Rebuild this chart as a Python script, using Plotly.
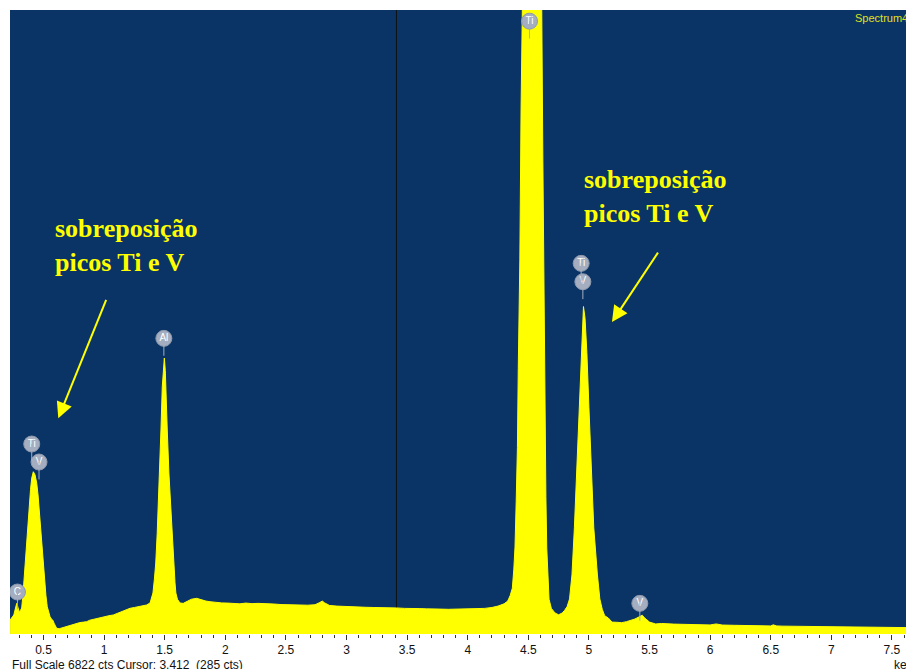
import plotly.graph_objects as go

# ---------------- data ----------------
energy_kev = [
    0.224, 0.245, 0.255, 0.265, 0.279, 0.290, 0.298, 0.310, 0.320, 0.330,
    0.339, 0.350, 0.361, 0.372, 0.383, 0.393, 0.403, 0.416, 0.430, 0.444,
    0.455, 0.465, 0.475, 0.485, 0.496, 0.507, 0.520, 0.531, 0.543, 0.554,
    0.565, 0.576, 0.590, 0.609, 0.630, 0.650, 0.670, 0.690, 0.720, 0.750,
    0.774, 0.800, 0.830, 0.857, 0.880, 0.910, 0.940, 0.970, 1.000, 1.040,
    1.076, 1.110, 1.150, 1.190, 1.214, 1.250, 1.290, 1.320, 1.350, 1.379,
    1.392, 1.403, 1.415, 1.426, 1.438, 1.450, 1.460, 1.469, 1.480, 1.490,
    1.497, 1.505, 1.511, 1.521, 1.535, 1.552, 1.563, 1.574, 1.585, 1.592,
    1.605, 1.626, 1.653, 1.690, 1.720, 1.764, 1.800, 1.840, 1.874, 1.920,
    1.970, 2.020, 2.070, 2.120, 2.170, 2.220, 2.270, 2.340, 2.400, 2.460,
    2.520, 2.580, 2.616, 2.680, 2.740, 2.780, 2.800, 2.820, 2.860, 2.920,
    2.980, 3.040, 3.100, 3.160, 3.220, 3.280, 3.340, 3.412, 3.480, 3.540,
    3.600, 3.660, 3.720, 3.780, 3.840, 3.900, 3.960, 4.020, 4.080, 4.140,
    4.200, 4.250, 4.300, 4.330, 4.350, 4.368, 4.380, 4.390, 4.400, 4.410,
    4.417, 4.430, 4.440, 4.450, 4.470, 4.500, 4.530, 4.560, 4.590, 4.611,
    4.620, 4.633, 4.638, 4.645, 4.652, 4.660, 4.671, 4.690, 4.720, 4.750,
    4.780, 4.800, 4.820, 4.840, 4.860, 4.880, 4.900, 4.920, 4.936, 4.955,
    4.968, 4.983, 5.000, 5.020, 5.040, 5.070, 5.090, 5.110, 5.130, 5.160,
    5.190, 5.230, 5.270, 5.310, 5.350, 5.380, 5.410, 5.440, 5.460, 5.500,
    5.550, 5.600, 5.700, 5.800, 5.900, 6.000, 6.050, 6.100, 6.200, 6.300,
    6.400, 6.500, 6.520, 6.550, 6.600, 6.700, 6.800, 6.900, 7.000, 7.100,
    7.200, 7.300, 7.400, 7.500, 7.620,
]
counts = [
    153, 190, 208, 262, 335, 290, 244, 260, 284, 420,
    590, 820, 1063, 1250, 1430, 1580, 1705, 1774, 1740, 1650,
    1520, 1355, 1180, 995, 780, 590, 420, 298, 230, 189,
    165, 153, 110, 62, 58, 66, 72, 80, 95, 110,
    117, 125, 130, 135, 150, 160, 171, 180, 190, 200,
    208, 225, 245, 262, 281, 290, 300, 310, 317, 339,
    400, 448, 600, 776, 1100, 1500, 1900, 2230, 2703, 2950,
    3017, 2880, 2703, 2230, 1750, 1323, 1000, 776, 560, 448,
    380, 339, 335, 360, 380, 390, 372, 360, 353, 345,
    340, 338, 335, 330, 338, 332, 335, 335, 328, 322,
    317, 320, 317, 315, 320, 345, 360, 340, 312, 305,
    300, 298, 295, 292, 290, 290, 288, 285, 280, 282,
    278, 275, 276, 272, 270, 272, 268, 270, 275, 280,
    290, 305, 330, 360, 420, 500, 700, 950, 1450, 2040,
    2900, 4090, 5740, 7500, 10500, 14000, 15000, 13000, 9500, 6800,
    5170, 2900, 2040, 1500, 940, 650, 380, 280, 230, 210,
    230, 260, 300, 383, 646, 1161, 1818, 2475, 3077, 3580,
    3450, 3077, 2475, 1818, 1161, 646, 383, 270, 200, 175,
    130, 128, 124, 135, 150, 164, 185, 205, 175, 130,
    110, 115, 108, 105, 102, 99, 110, 98, 95, 93,
    92, 88, 100, 88, 86, 84, 82, 80, 77, 76,
    74, 73, 72, 70, 70,
]

full_scale_cts = 6822
cursor_kev = 3.412
cursor_cts = 285

tick_values = [0.5, 1, 1.5, 2, 2.5, 3, 3.5, 4, 4.5, 5, 5.5, 6, 6.5, 7, 7.5]
tick_labels = ["0.5", "1", "1.5", "2", "2.5", "3", "3.5", "4", "4.5", "5",
               "5.5", "6", "6.5", "7", "7.5"]

element_labels = ["C", "Ti", "V", "Al", "Ti", "Ti", "V", "V"]
element_kev = [0.285, 0.403, 0.463, 1.493, 4.51, 4.936, 4.95, 5.42]
element_cts = [459, 2077, 1880, 3232, 6700, 4052, 3851, 335]

note_text = "sobreposição<br>picos Ti e V"
note_left = dict(x=0.578, y=4252, tail=(1.022, 3669), head=(0.622, 2358))
note_right = dict(x=4.944, y=4782, tail=(5.578, 4186), head=(5.19, 3410))

# ---------------- figure ----------------
BG = "#0a3466"
YEL = "#ffff00"
LBL = "#a4aec0"

fig = go.Figure()

fig.add_trace(go.Scatter(
    x=energy_kev, y=counts, mode="lines",
    line=dict(color=YEL, width=1), fill="tozeroy", fillcolor=YEL,
    hoverinfo="skip",
))

# stems of element markers
for lab, e, c in zip(element_labels, element_kev, element_cts):
    fig.add_shape(type="line", x0=e, x1=e, y0=c, y1=c - 190,
                  line=dict(color=LBL, width=1), layer="above")

fig.add_trace(go.Scatter(
    x=element_kev, y=element_cts, mode="markers+text",
    marker=dict(size=16, color=LBL, line=dict(color="#8e99ad", width=1)),
    text=element_labels, textposition="middle center",
    textfont=dict(family="Liberation Sans, Arial", size=10, color="white"),
    hoverinfo="skip",
))

# cursor line
fig.add_shape(type="line", x0=cursor_kev, x1=cursor_kev, yref="paper",
              y0=0, y1=1, line=dict(color="#111111", width=1), layer="below")

for n in (note_left, note_right):
    fig.add_annotation(x=n["x"], y=n["y"], text=note_text, showarrow=False,
                       xanchor="left", yanchor="middle", align="left",
                       font=dict(family="Liberation Serif, Times New Roman",
                                 size=26, color=YEL, weight="bold"))
    fig.add_annotation(x=n["head"][0], y=n["head"][1], ax=n["tail"][0],
                       ay=n["tail"][1], axref="x", ayref="y", xref="x", yref="y",
                       text="", showarrow=True, arrowhead=2, arrowsize=1.6,
                       arrowwidth=2, arrowcolor=YEL)

fig.add_annotation(xref="paper", yref="paper", x=0.9405, y=0.987,
                   text="Spectrum4", showarrow=False, xanchor="left",
                   yanchor="middle",
                   font=dict(family="Liberation Sans, Arial", size=11,
                             color="#e0e020"))
fig.add_annotation(xref="paper", yref="paper", x=0.0, y=-0.05,
                   text=f"Full Scale {full_scale_cts} cts Cursor: {cursor_kev}  ({cursor_cts} cts)",
                   showarrow=False, xanchor="left", yanchor="middle",
                   font=dict(family="Liberation Sans, Arial", size=12,
                             color="#111111"))
fig.add_annotation(xref="paper", yref="paper", x=0.984, y=-0.05,
                   text="keV", showarrow=False, xanchor="left",
                   yanchor="middle",
                   font=dict(family="Liberation Sans, Arial", size=12,
                             color="#111111"))

fig.update_layout(
    width=906, height=669,
    margin=dict(l=10, r=0, t=10, b=35),
    paper_bgcolor="white", plot_bgcolor=BG,
    showlegend=False,
    xaxis=dict(range=[0.2236, 7.616], tickmode="array", tickvals=tick_values,
               ticktext=tick_labels, ticks="outside", ticklen=5,
               tickcolor="#333333", tickwidth=1,
               minor=dict(dtick=0.1, tick0=0, ticks="outside", ticklen=3,
                          tickcolor="#333333"),
               showgrid=False, zeroline=False, showline=False,
               tickfont=dict(family="Liberation Sans, Arial", size=12,
                             color="#111111"),
               fixedrange=True),
    yaxis=dict(range=[0, full_scale_cts], visible=False, fixedrange=True),
)

fig.write_html(
    "out.html",
    config={"displayModeBar": False},
    post_script="document.body.style.margin='0';document.body.style.overflow='hidden';",
)
